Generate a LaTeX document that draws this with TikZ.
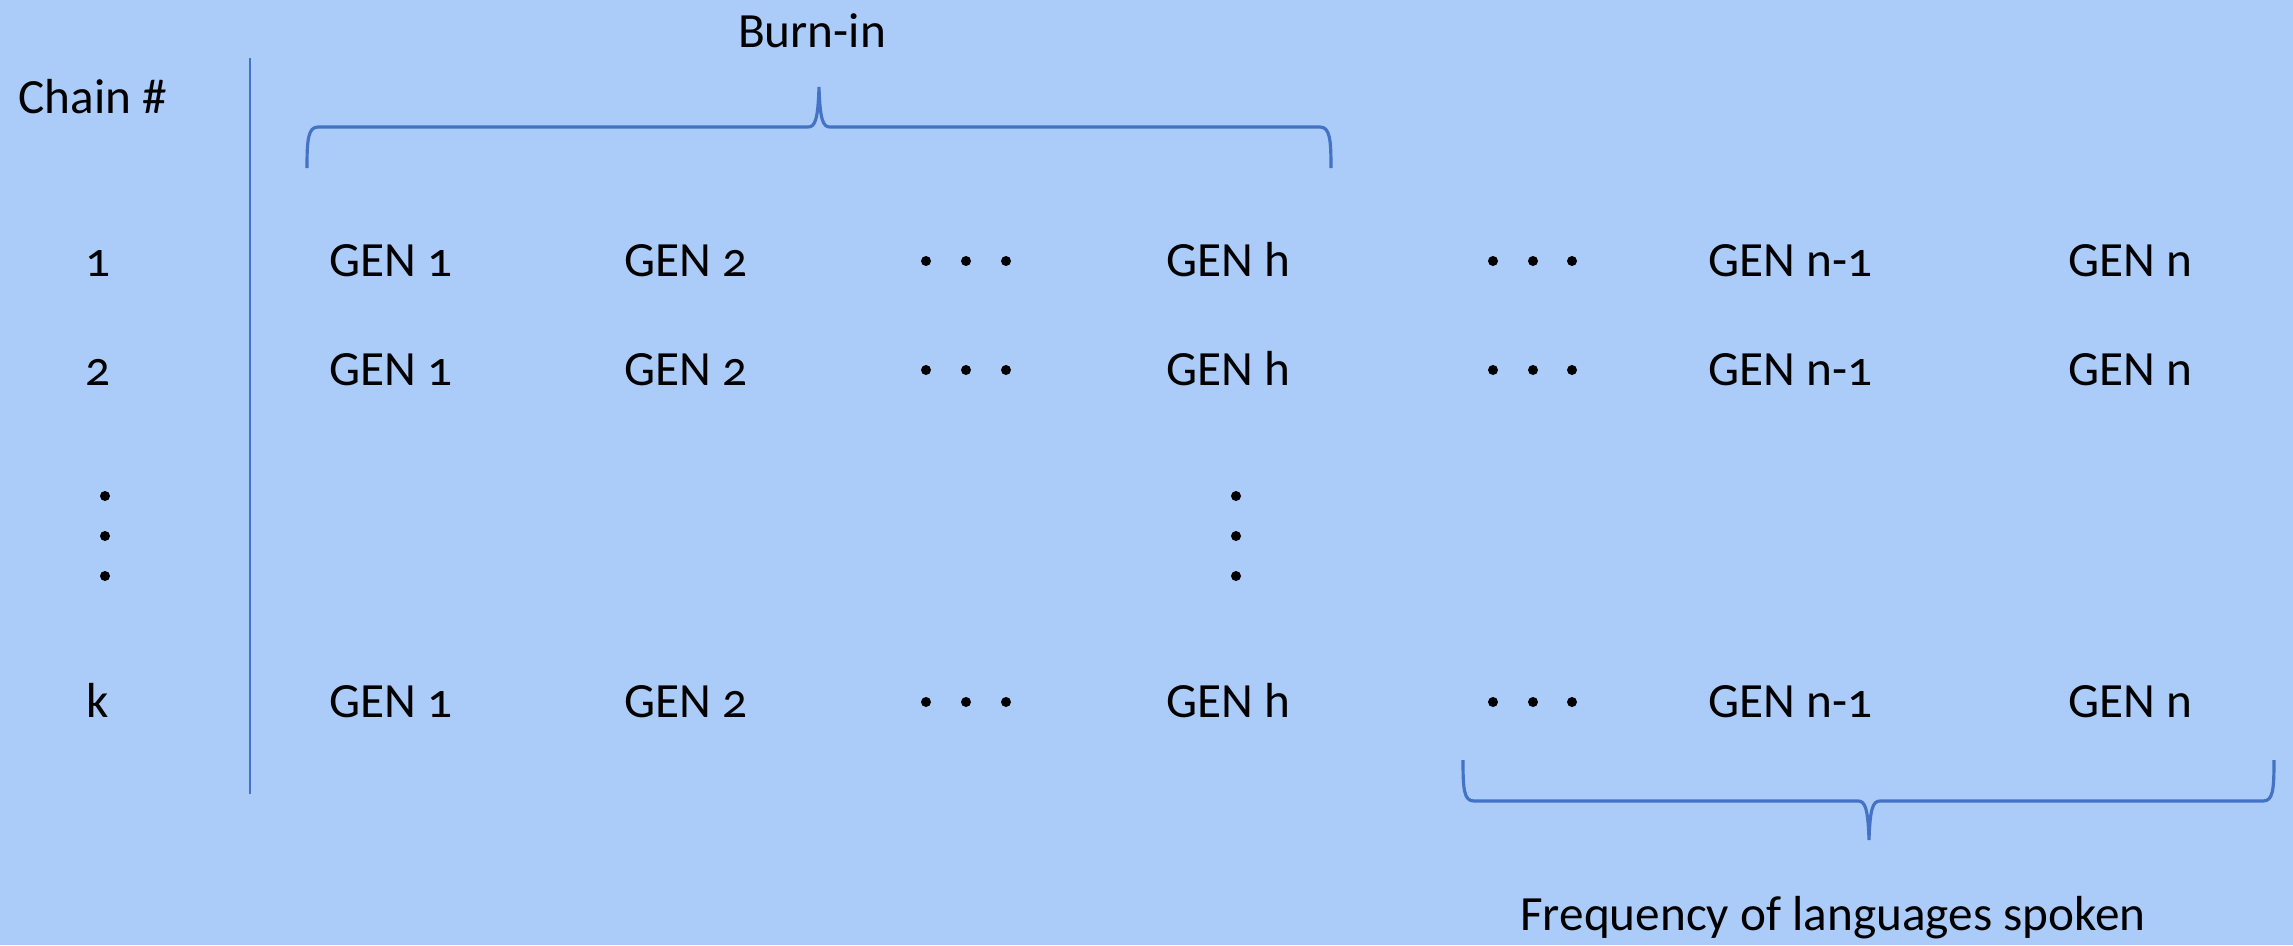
\documentclass[tikz,border=0pt]{standalone}
\usepackage{fontspec}
\setmainfont[Numbers=OldStyle]{Carlito}
\definecolor{bg}{RGB}{171,203,248}
\definecolor{brc}{RGB}{68,114,196}
\begin{document}
\begin{tikzpicture}[x=0.01cm,y=-0.01cm,
  txt/.style={font=\fontsize{14}{16}\selectfont, inner sep=0pt, anchor=base},
  gen/.style={txt, anchor=base west},
  dot/.style={circle, fill=black, inner sep=0pt, minimum size=0.1cm},
  brace/.style={draw=brc, line width=0.9pt},
  rule/.style={draw=brc, line width=0.5pt}]
\fill[bg] (0,0) rectangle (2293,945);
\useasboundingbox (0,0) rectangle (2293,945);

% header
\node[txt] (burn) at (812,47) {Burn-in};
\node[txt, anchor=base west] (chain) at (18,113) {Chain \#};
\draw[rule] (250,58) -- (250,794);

% braces
\draw[brace] (307,168) .. controls (307,140) and (308,127) .. (318,127) -- (808,127)
  .. controls (815,127) and (818,120) .. (819,87)
  .. controls (820,120) and (823,127) .. (830,127) -- (1320,127)
  .. controls (1330,127) and (1331,140) .. (1331,168);
\draw[brace] (1463,760) .. controls (1463,790) and (1464,801) .. (1474,801) -- (1858,801)
  .. controls (1865,801) and (1868,808) .. (1869,840)
  .. controls (1870,808) and (1873,801) .. (1880,801) -- (2263,801)
  .. controls (2273,801) and (2274,790) .. (2274,760);
\node[txt] (freq) at (1833,930) {Frequency of languages spoken};

% rows
\foreach \r/\lab/\yb in {a/1/276, b/2/385, k/k/717}{
  \node[txt] (c\r) at (98,\yb) {\lab};
  \node[gen] (g1\r) at (329,\yb) {GEN 1};
  \node[gen] (g2\r) at (624,\yb) {GEN 2};
  \node[gen] (gh\r) at (1166,\yb) {GEN h};
  \node[gen] (gm\r) at (1708,\yb) {GEN n-1};
  \node[gen] (gn\r) at (2068,\yb) {GEN n};
  \node[dot] (d1\r) at (926,\yb-15) {};
  \node[dot] (d2\r) at (966,\yb-15) {};
  \node[dot] (d3\r) at (1006,\yb-15) {};
  \node[dot] (e1\r) at (1493,\yb-15) {};
  \node[dot] (e2\r) at (1533,\yb-15) {};
  \node[dot] (e3\r) at (1572,\yb-15) {};
}
% vertical dots
\node[dot] (v1) at (105,496) {};
\node[dot] (v2) at (105,536) {};
\node[dot] (v3) at (105,576) {};
\node[dot] (w1) at (1236,496) {};
\node[dot] (w2) at (1236,536) {};
\node[dot] (w3) at (1236,576) {};
\end{tikzpicture}
\end{document}
